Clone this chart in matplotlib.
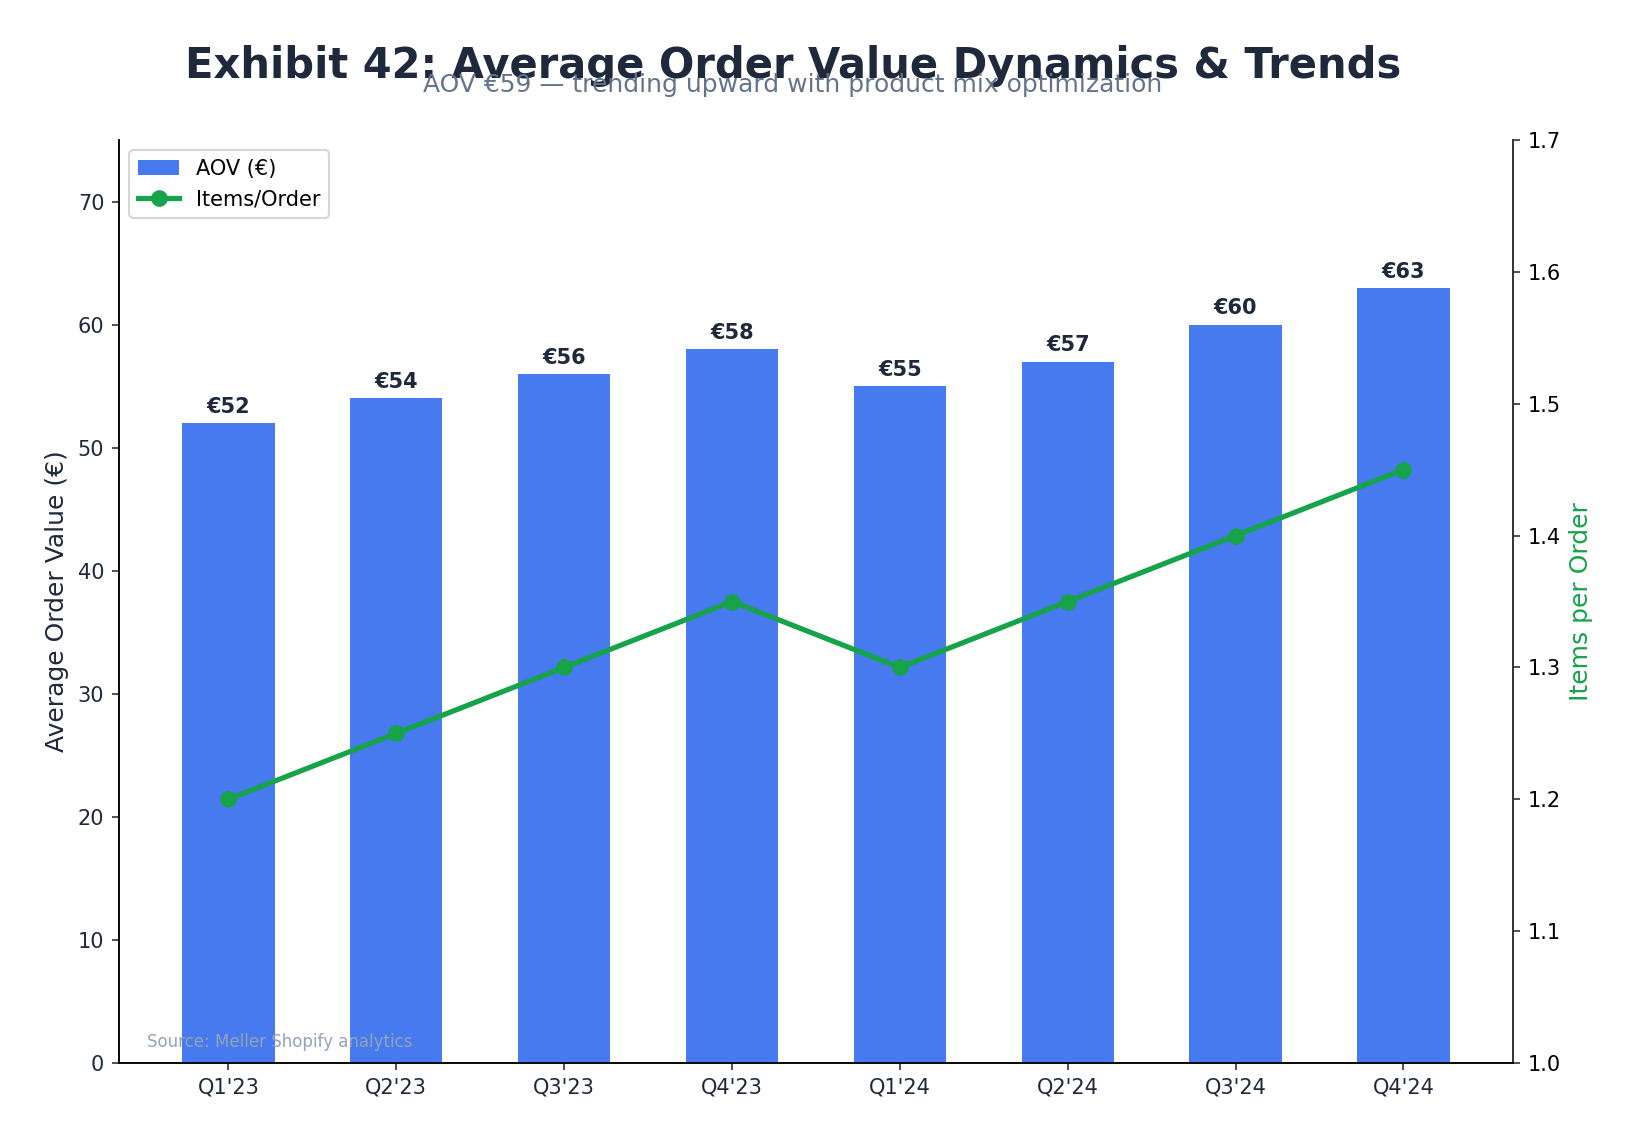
import matplotlib.pyplot as plt

# data
quarters = ["Q1'23", "Q2'23", "Q3'23", "Q4'23", "Q1'24", "Q2'24", "Q3'24", "Q4'24"]
aov = [52, 54, 56, 58, 55, 57, 60, 63]
items_per_order = [1.20, 1.25, 1.30, 1.35, 1.30, 1.35, 1.40, 1.45]

dark = '#1e293b'
blue = '#2563eb'
green = '#16a34a'

fig, ax = plt.subplots(figsize=(10.92, 7.6267), dpi=150)
fig.subplots_adjust(left=0.0726, right=0.9237, bottom=0.0708, top=0.8776)

x = list(range(len(quarters)))
bars = ax.bar(x, aov, width=0.55, color=blue, alpha=0.85, label='AOV (€)')
for xi, v in zip(x, aov):
    ax.text(xi, v + 0.5, f'€{v}', ha='center', va='bottom', fontsize=10,
            fontweight='bold', color=dark)

ax.set_ylim(0, 75)
ax.set_xticks(x)
ax.set_xticklabels(quarters)
ax.set_ylabel('Average Order Value (€)', fontsize=12, color=dark)
ax.tick_params(axis='both', labelsize=10, colors='#333333', labelcolor=dark)
ax.spines['top'].set_visible(False)
for s in ['left', 'bottom', 'right']:
    ax.spines[s].set_color('#333333')

# zweite Achse
ax2 = ax.twinx()
line, = ax2.plot(x, items_per_order, color=green, linewidth=2.5, marker='o',
                 markersize=7, label='Items/Order')
ax2.set_ylim(1.0, 1.7)
ax2.set_ylabel('Items per Order', fontsize=12, color=green)
ax2.tick_params(axis='y', labelsize=10, colors='#333333', labelcolor='black')
ax2.spines['top'].set_visible(False)
ax2.spines['right'].set_color('#333333')

ax.legend([bars, line], ['AOV (€)', 'Items/Order'], loc='upper left', fontsize=10)

ax.text(0.02, 0.017, 'Source: Meller Shopify analytics', transform=ax.transAxes,
        fontsize=8, color='#94a3b8', ha='left', va='baseline')

fig.text(0.484, 0.932, 'Exhibit 42: Average Order Value Dynamics & Trends',
         ha='center', va='baseline', fontsize=20, fontweight='bold', color=dark)
fig.text(0.484, 0.9195, 'AOV €59 — trending upward with product mix optimization',
         ha='center', va='baseline', fontsize=12, color='#64748b')

fig.savefig('out.png', dpi=150)
